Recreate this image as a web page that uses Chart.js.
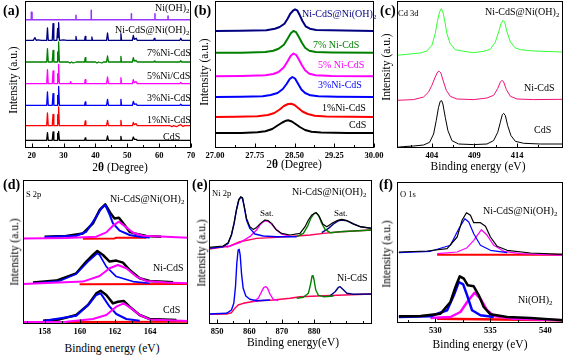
<!DOCTYPE html>
<html><head><meta charset="utf-8">
<script src="https://cdn.jsdelivr.net/npm/chart.js@4"></script>
<style>
body{margin:0;width:574px;height:362px;background:#fff;position:relative;overflow:hidden;font-family:'Liberation Serif','Times New Roman',serif;}
canvas{position:absolute;}
.t{position:absolute;white-space:nowrap;line-height:1;transform:translateY(-50%);font-size:10px;color:#000;}
.c{position:absolute;white-space:nowrap;line-height:1;transform:translate(-50%,-50%);font-size:11.5px;}
.r{position:absolute;white-space:nowrap;line-height:1;transform:translate(-50%,-50%) rotate(-90deg);font-size:11.5px;}
sub{font-size:70%;vertical-align:-0.3em;line-height:0;}
</style></head><body>
<script>
// ---------- (a) XRD ----------
const aTicks = [20, 30, 40, 50, 60, 70];
const aOffsets = [128.3, 107.7, 86, 64.3, 42.7, 22.3, 7.7];
const aNiOH2 = [[17.9,0],[19.9,0],[19.9,7.3],[20.1,7.3],[20.1,0],[33.9,0],[33.9,4.3],[33.9,0],[38.7,0],[38.7,9.3],[38.7,0],[51.3,0],[51.3,6],[51.3,0],[58.7,0],[58.7,6],[58.7,0],[62.8,0],[62.8,3.7],[62.8,0],[70,0]];
const aNiCdSNiOH = [[17.9,0],[20.5,0],[21,2.7],[21.4,0],[22,0.5],[23,0],[24.7,0],[24.95,12.3],[25.2,0],[26.45,0],[26.7,16.7],[26.95,0],[27.9,0],[28.15,12],[28.3,3],[28.45,17.7],[28.7,0],[30,0.5],[31,0],[33.7,0],[33.9,4],[34.1,0],[36.6,0],[36.8,4],[37,0],[38.7,0],[38.9,3.3],[39.1,0],[43.5,0],[43.8,7.3],[44.1,0],[47.8,0],[48,6.7],[48.2,0],[51.6,0],[51.9,5],[52.2,1],[52.8,2],[53.1,0],[58.3,0],[58.5,2],[58.7,0],[66.5,0],[66.8,2],[67.1,0],[70,0]];
const a7 = [[17.9,0],[24.7,0],[24.95,13.3],[25.2,0],[26.45,0],[26.7,11.7],[26.95,0],[27.95,0],[28.15,10],[28.3,2],[28.45,20],[28.7,0],[31.5,0],[32,-1],[32.5,0],[33,-1],[34,0],[36.6,0],[36.8,4.3],[37,0],[40,0],[40.5,-1],[41,0],[42,-1],[42.5,0],[43.5,0],[43.8,6],[44.1,0],[47.8,0],[48,5.7],[48.2,0],[51.6,0],[51.9,4.3],[52.2,1],[52.8,1.5],[53.1,0],[58.3,0],[58.5,1],[58.7,0],[66.5,0],[66.8,1.3],[67.1,0],[70,0]];
const a5 = [[17.9,0],[24.7,0],[24.95,14],[25.2,0],[26.45,0],[26.7,12.7],[26.95,0],[27.95,0],[28.15,10],[28.3,2],[28.45,19.3],[28.7,0],[32,0],[32.2,2],[32.4,0],[36.6,0],[36.8,4],[37,0],[43.5,0],[43.8,6.7],[44.1,0],[47.8,0],[48,6],[48.2,0],[51.6,0],[51.9,4],[52.2,1],[52.8,2],[53.1,0],[66.5,0],[66.8,1.3],[67.1,0],[70,0]];
const a3 = [[17.9,0],[24.7,0],[24.95,13.3],[25.2,0],[26.45,0],[26.7,11.7],[26.95,0],[27.95,0],[28.15,10],[28.3,2],[28.45,19],[28.7,0],[36.6,0],[36.8,3.3],[37,0],[43.5,0],[43.8,6],[44.1,0],[47.8,0],[48,6],[48.2,0],[51.6,0],[51.9,4],[52.2,1],[52.8,1.5],[53.1,0],[66.5,0],[66.8,1],[67.1,0],[70,0]];
const a1 = [[17.9,0],[24.7,0],[24.95,12.7],[25.2,0],[26.45,0],[26.7,11.3],[26.95,0],[27.95,0],[28.15,11],[28.3,2],[28.45,18.7],[28.7,0],[36.6,0],[36.8,4.7],[37,0],[43.5,0],[43.8,5.3],[44.1,0],[47.8,0],[48,5.3],[48.2,0],[51.6,0],[51.9,3.3],[52.2,1],[52.8,2],[53.1,0],[63.5,0],[64,-1],[64.5,0],[65.5,-1],[66,0],[66.8,1],[67.5,-0.7],[68,0],[70,0]];
const aCdS = [[17.9,0],[24.7,0],[24.95,7.7],[25.2,0],[26.45,0],[26.7,8.3],[26.95,0],[27.95,0],[28.15,7],[28.3,1.5],[28.45,9],[28.7,0],[36.6,0],[36.8,2.3],[37,0],[43.5,0],[43.8,4.3],[44.1,0],[47.8,0],[48,4],[48.2,0],[51.6,0],[51.9,3.3],[52.2,1],[52.8,1],[53.1,0],[70,0]];

// ---------- (b) XRD zoom ----------
const bTicks = [27.00, 27.75, 28.50, 29.25, 30.00];
const bOffsets = [117, 95.3, 71.7, 51, 31, 15];
const bNiCdSNiOH = [[27,0],[27.47,0.3],[27.97,0.7],[28.13,2.3],[28.22,4],[28.31,7.3],[28.37,12.3],[28.42,17.3],[28.48,20.7],[28.51,21.7],[28.55,20.7],[28.6,15.7],[28.65,10],[28.71,4.7],[28.79,2.3],[28.91,1],[29.17,0.7],[30,0]];
const b7 = [[27,0],[27.5,0],[27.95,0.7],[28.1,2],[28.2,4],[28.3,8],[28.37,14],[28.43,19.5],[28.48,21.7],[28.53,20.5],[28.58,16],[28.64,10],[28.7,5],[28.78,2],[28.9,0.7],[29.2,0.3],[30,0]];
const b5 = [[27,0],[27.5,0.3],[27.95,1],[28.1,2.3],[28.2,4.3],[28.3,9],[28.37,15],[28.43,20.5],[28.48,22.7],[28.53,21.5],[28.58,17],[28.64,11],[28.7,6],[28.78,2.5],[28.9,1],[29.2,0.3],[30,0]];
const b3 = [[27,0],[27.5,0.3],[27.9,0.7],[28.05,2],[28.18,4],[28.28,8],[28.35,13],[28.41,18],[28.46,20],[28.51,18.5],[28.57,13],[28.63,7.5],[28.7,4],[28.8,1.7],[28.95,0.7],[29.3,0.3],[30,0]];
const b1 = [[27,0],[27.4,0.3],[27.8,0.7],[28,2],[28.12,4],[28.22,7.5],[28.3,11],[28.38,13],[28.44,13.3],[28.5,12],[28.57,9],[28.65,5.5],[28.75,3],[28.88,1.3],[29.1,0.5],[30,0]];
const bCdS = [[27,0],[27.5,0],[27.8,0.7],[27.95,1.7],[28.08,4],[28.18,7.5],[28.27,10.5],[28.34,12.3],[28.38,12.7],[28.45,11.5],[28.52,9],[28.6,6],[28.7,3],[28.82,1.3],[29,0.5],[29.5,0],[30,0]];

// ---------- (c) Cd 3d ----------
const cTicks = [404, 409, 414];
const cOffsets = [96, 47.7, 2.7];
const cNiCdSNiOH = [[399.88,-3.3],[401.06,-2.3],[402.63,-1],[403.41,1],[404,6.7],[404.39,18.3],[404.67,31.7],[404.9,40],[405.1,43.3],[405.29,40],[405.53,30],[405.76,18.3],[406.16,8.3],[406.75,2.3],[407.73,0.7],[408.9,-0.7],[410.08,0.7],[410.86,2.7],[411.45,10],[411.84,20],[412.12,28.3],[412.35,31.7],[412.55,30],[412.82,20],[413.22,10],[413.8,4],[414.39,2.3],[415.96,1],[419.41,0]];
const cNiCdS = [[399.88,0],[401.84,0.7],[403.02,3.3],[403.61,8.3],[404,15],[404.39,23.3],[404.67,28.3],[404.86,29],[405.06,27.3],[405.37,18.3],[405.69,10],[406.16,4],[406.94,1.3],[408.9,0.7],[410.47,2.3],[411.25,5],[411.73,11.7],[412.04,18.3],[412.24,20],[412.43,18.3],[412.75,10.7],[413.22,4],[414,1.3],[415.96,0.7],[419.41,1]];
const cCdS = [[399.88,-2],[400.67,-1.3],[401.84,-0.7],[403.02,0.3],[403.73,3],[404.2,11.3],[404.51,24.7],[404.78,38],[404.98,44],[405.14,44.7],[405.29,41.3],[405.57,28],[405.88,14.7],[406.35,4.7],[407.14,1.3],[408.9,0.7],[410.47,1.3],[411.25,4.7],[411.73,13],[412.04,23],[412.27,30.7],[412.43,32],[412.63,29.7],[412.9,19.7],[413.29,9.7],[413.8,4],[414.78,2],[416.75,1.3],[419.41,1.3]];

// ---------- (d) S 2p ----------
const dTicks = [158, 160, 162, 164];
const dOffsets = [86.3, 40.7, 3.3];
const dTopEnv = [[158,1],[159.23,1.7],[160.18,4.3],[160.75,14.3],[161.13,27.7],[161.45,33.3],[161.76,24.3],[161.98,19.3],[162.23,20],[162.55,12.7],[162.84,6],[163.12,4.3],[163.79,1.7],[164.64,1]];
const dTopBlue = [[158,0.7],[159.8,2],[160.37,6],[160.94,21],[161.22,29.3],[161.45,32.7],[161.7,23],[161.89,14.3],[162.27,7],[162.84,2.7],[163.41,1],[163.98,0.3]];
const dTopMag = [[156.77,-0.7],[159.23,-0.3],[160.94,1],[161.51,5.3],[161.89,12],[162.23,16],[162.65,10.3],[163.03,5],[163.6,2],[166.16,0]];
const dTopRed = [[160.18,-1],[161.98,-0.7],[162.08,0],[163.79,0]];
const dMidEnv = [[157.34,0.7],[158.66,2.7],[159.8,10],[160.37,21.7],[160.75,28.3],[161,32.3],[161.32,28.3],[161.7,21.7],[162.08,22.7],[162.46,20.7],[162.84,13.3],[163.41,5],[163.98,2.3],[165.31,1]];
const dMidBlue = [[157.34,0],[158.85,2.3],[159.8,9.3],[160.47,21.7],[161,30],[161.13,28.3],[161.51,16.7],[162.08,6.7],[163.03,1.7],[163.98,0]];
const dMidMag = [[156.77,-0.7],[160.18,1.7],[161.13,7.3],[161.7,15],[162.17,18.3],[162.65,15],[163.22,6.7],[163.79,2.3],[164.93,0.7],[166.16,0]];
const dMidRed = [[159.99,-1],[166.16,-0.7]];
const dBotEnv = [[157.91,0],[158.85,1.3],[159.8,5.7],[160.47,15.7],[160.94,27.3],[161.19,30],[161.51,25.7],[161.89,17.3],[162.17,19],[162.5,19.7],[162.84,14],[163.41,5.7],[163.98,1.7],[165.5,0.7]];
const dBotBlue = [[157.91,-0.3],[159.8,5],[160.56,17.3],[160.94,25.7],[161.19,27.3],[161.7,14],[162.08,6.7],[162.65,1.7],[163.41,0]];
const dBotMag = [[156.77,-1.3],[159.23,-1],[160.75,1.7],[161.51,5.7],[162.08,14],[162.5,17.3],[162.93,12.3],[163.41,5.7],[163.98,1.3],[166.16,-0.3]];
const dBotRed = [[159.23,-1.3],[166.16,-1]];

// ---------- (e) Ni 2p ----------
const eTicks = [850, 860, 870, 880];
const eOffsets = [87.3, 10];
const eTopEnv = [[847.52,-10.7],[851.86,-9.3],[853.41,-6],[854.45,2.3],[855.27,14],[856,27.3],[856.72,37.3],[857.34,40],[857.86,39],[858.38,30.7],[859.1,18.3],[860.13,10],[861.17,7.3],[862.2,9.3],[863.44,13.3],[864.79,16.7],[865.82,16],[866.86,13.3],[868.2,7.3],[869.96,3.3],[872.54,1.7],[875.65,3.3],[877.2,10],[878.23,16.7],[879.27,21.7],[880.61,24],[881.64,20],[882.68,12.7],[883.92,10],[885.47,13.3],[887.02,16],[888.57,17.3],[890.12,16],[892.19,12.7],[894.26,10],[897.88,8.3]];
const eTopBlue = [[847.52,-11.7],[851.86,-10],[853.41,-6.7],[854.45,1.7],[855.27,13.3],[856,26.7],[856.72,36.7],[857.34,39.3],[857.86,38.3],[858.38,30],[859.1,16.7],[860.13,8.3],[861.69,2.7],[864.27,0.7],[868.41,0],[874.61,0]];
const eTopMag = [[852.9,-10.7],[857.03,-6],[860.13,0],[862.2,6.7],[863.44,12.7],[864.79,16],[865.82,15.3],[866.86,12.7],[868.2,7.3],[869.96,2.7],[872.54,0.7]];
const eTopBg = [[847.52,-12.3],[853.93,-9.3],[857.03,-5],[862.2,-1.7],[868.41,-0.7],[874.61,0.7],[878.75,1.7],[882.88,3.3],[888.06,5],[897.88,6.7]];
const eTopGreen = [[874.61,0],[876.68,3.3],[877.92,10],[878.96,18.3],[879.99,23.3],[880.61,24],[881.33,21.7],[882.37,13.3],[883.4,7.3],[884.95,4],[888.06,5],[897.88,6.7]];
const eTopNavy = [[882.37,4],[884.44,8.3],[885.99,12.7],[887.54,16],[888.57,16.7],[890.12,16],[892.19,12.7],[894.26,10],[897.88,8.3]];
const eBotBlue = [[847.52,0],[852.9,0.7],[854.45,4],[855.17,10.7],[855.69,27.3],[856.1,50.7],[856.51,64],[856.83,64.7],[857.14,59],[857.55,40.7],[858.07,25.7],[858.89,18],[860.13,14.7],[862.2,13.3],[866.34,14]];
const eBotBg = [[847.52,-0.3],[852.9,0],[854.45,1.3],[855.48,5.7],[856.51,9],[858.07,10.7],[860.65,12.3],[863.24,13.3],[867.37,14],[872.54,15.7],[875.65,17.3],[882.88,18.3],[897.88,20]];
const eBotMag = [[861.17,12.3],[862.72,15.7],[863.75,22.3],[864.48,26.7],[865.1,27.3],[865.62,25.7],[866.34,20],[867.37,14.7],[868.92,13.3]];
const eBotGreen = [[874.61,15.7],[876.68,16.7],[878.23,20.7],[878.96,30.7],[879.37,38],[879.68,38.3],[879.99,34],[880.51,24],[881.33,18.7],[882.88,17.3],[885.99,18]];
const eBotNavy = [[884.95,18.3],[886.5,22.3],[887.54,26.7],[888.06,27.3],[888.88,24.7],[890.12,20.7],[892.19,19.7],[897.88,20]];

// ---------- (f) O 1s ----------
const fTicks = [530, 535, 540];
const fOffsets = [70, 6];
const fTopEnv = [[526.67,1],[529.24,2],[531.06,4.3],[531.97,16],[532.42,32.7],[532.82,40.3],[533.18,37.7],[533.48,30.3],[534.09,30.3],[534.55,26.7],[535,16],[535.61,6.7],[536.52,2.7],[538.64,0],[541.61,-1.3]];
const fTopBlue = [[526.67,0.3],[529.55,1.7],[531.36,7.7],[532.12,24.3],[532.67,34.3],[533.03,31],[533.48,19.3],[534.09,7.7],[535,2.7],[536.52,0.3]];
const fTopMag = [[530.15,-0.7],[531.97,1],[532.88,5.3],[533.48,12.7],[534.18,23.3],[534.7,17.7],[535.3,7.7],[536.21,1.7],[537.73,-0.7],[541.61,-2.3]];
const fTopRed = [[530.15,-1.7],[541.61,-1.7]];
const fBotEnv = [[526.67,0.7],[528.64,1],[530.45,3.3],[531.36,15],[531.82,30],[532.21,40.7],[532.58,38.3],[532.94,31.7],[533.48,30.7],[533.94,21.7],[534.39,10],[535,2.7],[536.52,0],[538.64,-1],[541.61,-3.3]];
const fBotBlue = [[526.67,0],[529.55,0.7],[531.06,6.7],[531.67,21.7],[532.12,35],[532.52,32.7],[532.88,21.7],[533.33,6.7],[534.09,1.7],[535.3,0]];
const fBotMag = [[529.55,-1],[531.36,0],[532.27,5],[532.88,15],[533.55,24.3],[534.09,18.3],[534.7,6.7],[535.3,1],[537.12,-1.7],[541.61,-3.3]];
const fBotRed = [[530.15,-1.7],[541.61,-3.3]];

// ---------- rendering ----------
const FONT = "'Liberation Serif','Times New Roman',serif";
const framePlugin = {
  id: 'frame',
  afterDatasetsDraw(chart, args, opts) {
    const {ctx, chartArea: a, scales: {x}} = chart;
    ctx.save();
    ctx.strokeStyle = '#000'; ctx.lineWidth = 1;
    const L = Math.round(a.left) + 0.5, T = Math.round(a.top) + 0.5;
    const R = Math.round(a.right) - 0.5, B = Math.round(a.bottom) - 0.5;
    ctx.strokeRect(L, T, R - L, B - T);
    ctx.beginPath();
    (opts.major || []).forEach(v => { const p = Math.round(x.getPixelForValue(v)) + 0.5; ctx.moveTo(p, B); ctx.lineTo(p, B - 4); });
    (opts.minor || []).forEach(v => { const p = Math.round(x.getPixelForValue(v)) + 0.5; ctx.moveTo(p, B); ctx.lineTo(p, B - 2.5); });
    ctx.stroke();
    ctx.restore();
  }
};
function ds(arr, off, color, w) {
  return {data: arr.map(p => ({x: p[0], y: p[1] + off})), borderColor: color, borderWidth: w,
          pointRadius: 0, fill: false, tension: 0, borderJoinStyle: 'round'};
}
function panel(box, xMin, xMax, ticks, fmt, minor, fontSize, datasets) {
  const c = document.createElement('canvas');
  const W = box[2] - box[0] + 40, H = box[3] - box[1] + 2 + 18;
  c.width = W; c.height = H;
  c.style.left = (box[0] - 20) + 'px'; c.style.top = (box[1] - 2) + 'px';
  c.style.width = W + 'px'; c.style.height = H + 'px';
  document.body.appendChild(c);
  new Chart(c, {
    type: 'line',
    data: {datasets},
    options: {
      responsive: false, animation: false, events: [],
      layout: {padding: {left: 20, right: 20, top: 2, bottom: 0}},
      plugins: {legend: {display: false}, tooltip: {enabled: false}, frame: {major: ticks, minor}},
      scales: {
        x: {type: 'linear', min: xMin, max: xMax,
            afterBuildTicks: s => { s.ticks = ticks.map(v => ({value: v})); },
            afterFit: s => { s.height = 18; },
            ticks: {autoSkip: false, maxRotation: 0, padding: 3, color: '#000',
                    font: {family: FONT, size: fontSize, weight: 'bold'}, callback: v => fmt(v)},
            grid: {display: false, drawTicks: false}, border: {display: false}},
        y: {type: 'linear', display: false, min: 0, max: box[3] - box[1]}
      }
    },
    plugins: [framePlugin]
  });
}
const int = v => String(Math.round(v));

// (a)
panel([25, 1, 191, 148], 17.9, 70, aTicks, int, [25, 35, 45, 55, 65], 8.5, [
  ds(aNiOH2, aOffsets[0], '#9933ff', 1.6),
  ds(aNiCdSNiOH, aOffsets[1], '#000080', 1.3),
  ds(a7, aOffsets[2], '#008000', 1.3),
  ds(a5, aOffsets[3], '#ff00ff', 1.3),
  ds(a3, aOffsets[4], '#0000ff', 1.3),
  ds(a1, aOffsets[5], '#ff0000', 1.3),
  ds(aCdS, aOffsets[6], '#000000', 1.3)
]);
// (b)
panel([215, 1, 374, 148], 27, 30, bTicks, v => v.toFixed(2), [27.375, 28.125, 28.875, 29.625], 8.5, [
  ds(bNiCdSNiOH, bOffsets[0], '#000080', 2),
  ds(b7, bOffsets[1], '#008000', 2),
  ds(b5, bOffsets[2], '#ff00ff', 2),
  ds(b3, bOffsets[3], '#0000ff', 2),
  ds(b1, bOffsets[4], '#ff0000', 2),
  ds(bCdS, bOffsets[5], '#000000', 2)
]);
// (c)
panel([397, 1, 563, 148], 399.9, 419.4, cTicks, int, [401.5, 406.5, 411.5, 416.5], 8.5, [
  ds(cNiCdSNiOH, cOffsets[0], '#33ff33', 1),
  ds(cNiCdS, cOffsets[1], '#ee1177', 1),
  ds(cCdS, cOffsets[2], '#000000', 1)
]);
// (d)
panel([23, 180, 188, 324], 156.77, 166.16, dTicks, int, [157, 159, 161, 163, 165], 8.5, [
  ds(dTopMag, dOffsets[0], '#ff00ff', 2),
  ds(dTopBlue, dOffsets[0], '#0000ff', 2),
  ds(dTopEnv, dOffsets[0], '#000000', 2.5),
  ds(dTopRed, dOffsets[0], '#ff0000', 2),
  ds(dMidMag, dOffsets[1], '#ff00ff', 2),
  ds(dMidBlue, dOffsets[1], '#0000ff', 1.6),
  ds(dMidEnv, dOffsets[1], '#000000', 2.5),
  ds(dMidRed, dOffsets[1], '#ff0000', 2),
  ds(dBotMag, dOffsets[2], '#ff00ff', 2),
  ds(dBotBlue, dOffsets[2], '#0000ff', 2),
  ds(dBotEnv, dOffsets[2], '#000000', 2.5),
  ds(dBotRed, dOffsets[2], '#ff0000', 2)
]);
// (e)
panel([209, 180, 372, 324], 847.5, 897.9, eTicks, int, [855, 865, 875, 885, 890, 895], 8.5, [
  ds(eTopEnv, eOffsets[0], '#000000', 1.2),
  ds(eTopBlue, eOffsets[0], '#0000ff', 1.4),
  ds(eTopMag, eOffsets[0], '#ff00ff', 1.4),
  ds(eTopGreen, eOffsets[0], '#008000', 1.4),
  ds(eTopNavy, eOffsets[0], '#000080', 1.4),
  ds(eTopBg, eOffsets[0], '#ff0055', 1.4),
  ds(eBotBlue, eOffsets[1], '#0000ff', 1.4),
  ds(eBotMag, eOffsets[1], '#ff00ff', 1.4),
  ds(eBotGreen, eOffsets[1], '#008000', 1.4),
  ds(eBotNavy, eOffsets[1], '#000080', 1.4),
  ds(eBotBg, eOffsets[1], '#ff0055', 1.4)
]);
// (f)
panel([397, 182, 563, 323], 526.5, 541.6, fTicks, int, [527.5, 532.5, 537.5], 8.5, [
  ds(fTopEnv, fOffsets[0], '#000000', 1.2),
  ds(fTopBlue, fOffsets[0], '#0000ff', 1.2),
  ds(fTopMag, fOffsets[0], '#ff00ff', 1.2),
  ds(fTopRed, fOffsets[0], '#ff0000', 2),
  ds(fBotEnv, fOffsets[1], '#000000', 2.5),
  ds(fBotBlue, fOffsets[1], '#0000ff', 2.5),
  ds(fBotMag, fOffsets[1], '#ff00ff', 2.5),
  ds(fBotRed, fOffsets[1], '#ff0000', 2.5)
]);

// ---------- texts ----------
const N = 'Ni-CdS@Ni(OH)<sub>2</sub>';
const texts = [
  // [html, x, y, color, size, bold]
  ['(a)', 3, 11, '#000', 14, true], ['(b)', 194, 11, '#000', 14, true], ['(c)', 380, 11, '#000', 14, true],
  ['(d)', 3, 185, '#000', 14, true], ['(e)', 192, 185, '#000', 14, true], ['(f)', 379, 185, '#000', 14, true],
  ['Ni(OH)<sub>2</sub>', 155, 8, '#000', 10], [N, 115, 30, '#000', 10], ['7%Ni-CdS', 147, 53, '#000', 10],
  ['5%Ni/CdS', 147, 76, '#000', 10], ['3%Ni-CdS', 147, 98, '#000', 10], ['1%Ni-CdS', 147, 120, '#000', 10],
  ['CdS', 163, 137, '#000', 10],
  [N, 302, 14, '#000080', 10], ['7% Ni-CdS', 313, 45, '#008000', 10], ['5% Ni-CdS', 318, 65, '#ff00ff', 10],
  ['3%Ni-CdS', 318, 85, '#0000ff', 10], ['1%Ni-CdS', 322, 108, '#000', 10], ['CdS', 349, 125, '#000', 10],
  ['Cd 3d', 398, 13, '#000', 8.5], [N, 485, 12, '#000', 10], ['Ni-CdS', 524, 88, '#000', 10], ['CdS', 534, 130, '#000', 10],
  ['S 2p', 26, 194, '#000', 8.5], [N, 110, 199, '#000', 10], ['Ni-CdS', 153, 268, '#000', 10], ['CdS', 163, 310, '#000', 10],
  ['Ni 2p', 212, 193, '#000', 8.5], [N, 292, 192, '#000', 10], ['Sat.', 260, 213, '#000', 9], ['Sat.', 334, 213, '#000', 9],
  ['Ni-CdS', 337, 278, '#000', 10],
  ['O 1s', 400, 194, '#000', 8.5], [N, 483, 211, '#000', 10], ['Ni(OH)<sub>2</sub>', 518, 300, '#000', 10]
];
texts.forEach(([h, x, y, c, s, b]) => {
  const d = document.createElement('div'); d.className = 't'; d.innerHTML = h;
  d.style.left = x + 'px'; d.style.top = y + 'px'; d.style.color = c; d.style.fontSize = s + 'px';
  if (b) d.style.fontWeight = 'bold';
  document.body.appendChild(d);
});
const xTitles = [['2<b>θ</b> (Degree)', 120, 168], ['2<b>θ</b> (Degree)', 294, 165], ['Binding energy (eV)', 478, 167],
  ['Binding energy (eV)', 112, 349], ['Binding energy(eV)', 293, 343], ['Binding energy (eV)', 480, 345]];
xTitles.forEach(([h, x, y]) => { const d = document.createElement('div'); d.className = 'c'; d.innerHTML = h;
  d.style.left = x + 'px'; d.style.top = y + 'px'; document.body.appendChild(d); });
const yTitles = [[14, 80], [205, 72], [387, 67], [15, 252], [202, 253], [387, 254]];
yTitles.forEach(([x, y]) => { const d = document.createElement('div'); d.className = 'r'; d.textContent = 'Intensity (a.u.)';
  d.style.left = x + 'px'; d.style.top = y + 'px'; document.body.appendChild(d); });
</script>
</body></html>
